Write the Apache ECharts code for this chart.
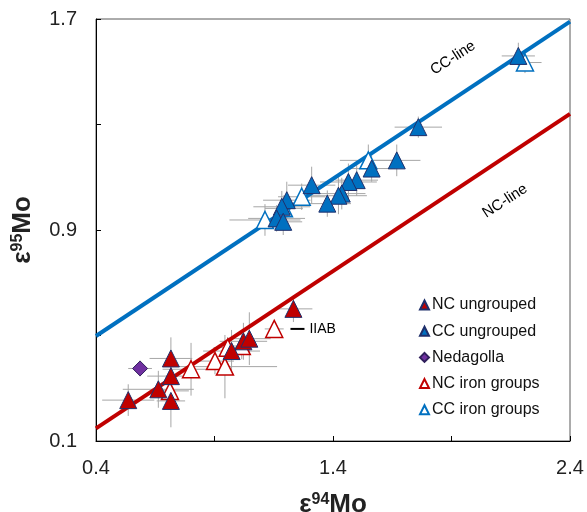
<!DOCTYPE html>
<html><head><meta charset="utf-8">
<script src="https://cdn.jsdelivr.net/npm/echarts@6/dist/echarts.min.js"></script>
<style>html,body{margin:0;padding:0;background:#fff}#c{width:587px;height:512px}</style>
</head><body><div id="c"></div>
<script>
// [x, y, xErr, yErr]
const ncUngrouped = [
  [0.536,0.255,0.11,0.06],[0.663,0.296,0.15,0.07],[0.716,0.413,0.09,0.08],
  [0.716,0.346,0.10,0.06],[0.716,0.252,0.06,0.10],[0.972,0.441,0.12,0.08],
  [1.022,0.478,0.10,0.07],[1.047,0.488,0.09,0.10],[1.233,0.601,0.08,0.05]
];
const ccUngrouped = [
  [2.182,1.560,0.07,0.05],[1.760,1.290,0.10,0.04],[1.669,1.164,0.10,0.06],
  [1.563,1.133,0.10,0.05],[1.500,1.089,0.09,0.06],[1.465,1.082,0.12,0.07],
  [1.437,1.038,0.10,0.06],[1.423,1.030,0.12,0.07],[1.376,1.000,0.10,0.05],
  [1.310,1.070,0.10,0.07],[1.205,1.013,0.10,0.07],[1.184,0.988,0.12,0.06],
  [1.162,0.944,0.12,0.05],[1.190,0.931,0.08,0.05]
];
const nedagolla = [[0.586,0.375,0.05,0.03]];
const ncIron = [
  [0.712,0.290,0.08,0.05],[0.801,0.372,0.12,0.10],[0.902,0.403,0.08,0.05],
  [0.944,0.382,0.22,0.12],[0.956,0.454,0.06,0.04],[1.015,0.460,0.06,0.05],
  [1.152,0.525,0.04,0.03]
];
const ccIron = [
  [2.210,1.535,0.07,0.04],[1.549,1.164,0.12,0.06],[1.268,1.026,0.10,0.05],
  [1.193,0.982,0.08,0.05],[1.113,0.938,0.15,0.06]
];
const ccLine = [[0.4,0.498],[2.4,1.690]];
const ncLine = [[0.4,0.148],[2.4,1.340]];
const xTickLabels = ['0.4','1.4','2.4'];
const yTickLabels = ['0.1','0.9','1.7'];
const iiabIndex = 6;

const chart = echarts.init(document.getElementById('c'));
const FONT = '"Liberation Sans", Arial, sans-serif';
const allErr = [].concat(ncUngrouped, ccUngrouped, nedagolla, ncIron, ccIron);

function fmt(list){ return function(v){ const s = (Math.round(v*10)/10).toFixed(1); return list.indexOf(s) >= 0 ? s : ''; }; }

const pointLabel = (series, i) => series.map((d, k) => k === i ? {
  value: [d[0], d[1]],
  label: {show: true, position: 'right', distance: 7,
    formatter: '{l|}{t|IIAB}',
    rich: {l: {width: 14, height: 2, backgroundColor: '#000'}, t: {fontSize: 14, fontFamily: FONT, color: '#000', padding: [0,0,0,5]}}}
} : [d[0], d[1]]);

const nameRich = {
  e: {fontSize: 26, fontWeight: 'bold', fontFamily: FONT, color: '#222'},
  s: {fontSize: 16, fontWeight: 'bold', fontFamily: FONT, color: '#222', verticalAlign: 'top', padding: [0,0,10,0]},
  m: {fontSize: 26, fontWeight: 'bold', fontFamily: FONT, color: '#222'}
};

chart.setOption({
  animation: false,
  grid: {left: 96, right: 17, top: 19, bottom: 71, show: true, borderColor: '#595959', borderWidth: 1,
    containLabel: false, outerBoundsMode: 'none'},
  xAxis: {
    type: 'value', min: 0.4, max: 2.4, interval: 0.5,
    axisLine: {lineStyle: {color: '#000', width: 1}},
    axisTick: {inside: true, length: 5, lineStyle: {color: '#000'}},
    splitLine: {show: false},
    axisLabel: {formatter: fmt(xTickLabels), fontSize: 20, color: '#222', fontFamily: FONT, margin: 17, showMinLabel: true, showMaxLabel: true},
    name: '{e|ε}{s|94}{m|Mo}', nameLocation: 'middle', nameGap: 51,
    nameTextStyle: {rich: nameRich}
  },
  yAxis: {
    type: 'value', min: 0.1, max: 1.7, interval: 0.4,
    axisLine: {show: true, lineStyle: {color: '#000', width: 1}},
    axisTick: {show: true, inside: true, length: 5, lineStyle: {color: '#000'}},
    splitLine: {show: false},
    axisLabel: {formatter: fmt(yTickLabels), fontSize: 20, color: '#222', fontFamily: FONT, margin: 19, showMinLabel: true, showMaxLabel: true},
    name: '{e|ε}{s|95}{m|Mo}', nameLocation: 'middle', nameGap: 60,
    nameTextStyle: {rich: nameRich}
  },
  legend: {
    orient: 'vertical', left: 414, top: 292, itemGap: 10.2, itemWidth: 9, itemHeight: 9,
    textStyle: {fontSize: 16, fontFamily: FONT, color: '#111', padding: [0,0,0,-2]},
    data: ['NC ungrouped','CC ungrouped','Nedagolla','NC iron groups','CC iron groups']
  },
  graphic: [
    {type: 'text', x: 453, y: 58, rotation: 33*Math.PI/180, style: {text: 'CC-line', fontSize: 15, fontFamily: FONT, fill: '#000', align: 'center', verticalAlign: 'middle'}},
    {type: 'text', x: 505, y: 201, rotation: 33*Math.PI/180, style: {text: 'NC-line', fontSize: 15, fontFamily: FONT, fill: '#000', align: 'center', verticalAlign: 'middle'}}
  ],
  series: [
    {type: 'custom', name: 'err', z: 1, silent: true, data: allErr,
      renderItem: function(params, api){
        const x = api.value(0), y = api.value(1), ex = api.value(2), ey = api.value(3);
        const l = api.coord([x-ex, y]), r = api.coord([x+ex, y]);
        const b = api.coord([x, y-ey]), t = api.coord([x, y+ey]);
        const st = {stroke: '#A6A6A6', lineWidth: 1};
        return {type: 'group', children: [
          {type: 'line', shape: {x1: l[0], y1: l[1], x2: r[0], y2: r[1]}, style: st},
          {type: 'line', shape: {x1: b[0], y1: b[1], x2: t[0], y2: t[1]}, style: st}
        ]};
      }},
    {type: 'line', name: 'CC-line', z: 2, data: ccLine, symbol: 'none', lineStyle: {color: '#0070C0', width: 4}, silent: true},
    {type: 'line', name: 'NC-line', z: 2, data: ncLine, symbol: 'none', lineStyle: {color: '#C00000', width: 4}, silent: true},
    {type: 'scatter', name: 'NC iron groups', z: 3, data: pointLabel(ncIron, iiabIndex), symbol: 'triangle', symbolSize: 17,
      itemStyle: {color: '#FFFFFF', borderColor: '#C00000', borderWidth: 1.5, opacity: 1}},
    {type: 'scatter', name: 'CC iron groups', z: 3, data: ccIron.map(d => [d[0], d[1]]), symbol: 'triangle', symbolSize: 17,
      itemStyle: {color: '#FFFFFF', borderColor: '#0070C0', borderWidth: 1.5, opacity: 1}},
    {type: 'scatter', name: 'NC ungrouped', z: 4, data: ncUngrouped.map(d => [d[0], d[1]]), symbol: 'triangle', symbolSize: 17,
      itemStyle: {color: '#C00000', borderColor: '#1F2F6B', borderWidth: 1, opacity: 1}},
    {type: 'scatter', name: 'CC ungrouped', z: 4, data: ccUngrouped.map(d => [d[0], d[1]]), symbol: 'triangle', symbolSize: 17,
      itemStyle: {color: '#0070C0', borderColor: '#1F2F6B', borderWidth: 1, opacity: 1}},
    {type: 'scatter', name: 'Nedagolla', z: 4, data: nedagolla.map(d => [d[0], d[1]]), symbol: 'diamond', symbolSize: 15,
      itemStyle: {color: '#7030A0', borderColor: '#2F1F5B', borderWidth: 1, opacity: 1}}
  ]
});
</script></body></html>
